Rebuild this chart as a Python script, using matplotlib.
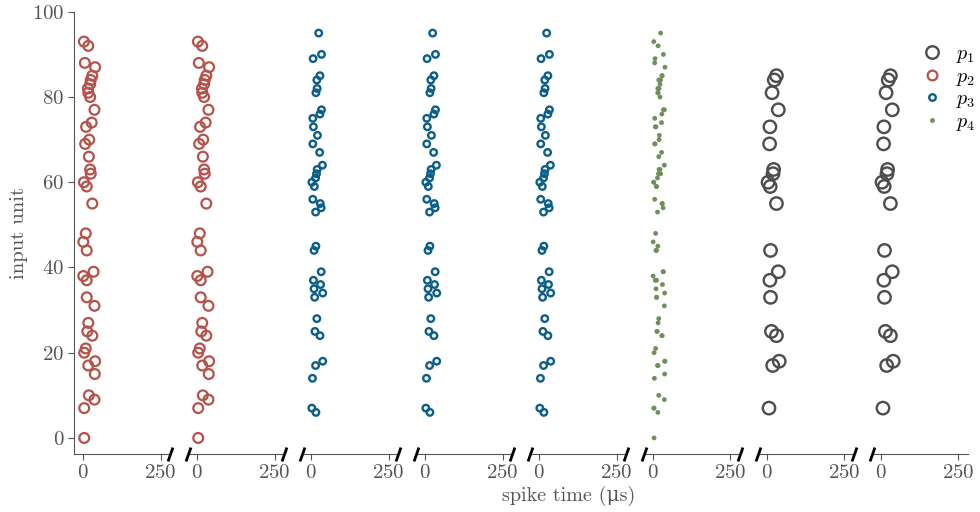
import numpy as np
import matplotlib
matplotlib.use("Agg")
import matplotlib.pyplot as plt
from matplotlib.lines import Line2D

plt.rcParams['font.family'] = ['cmr10', 'DejaVu Serif']
plt.rcParams['mathtext.fontset'] = 'cm'
plt.rcParams['axes.unicode_minus'] = False
plt.rcParams['axes.formatter.use_mathtext'] = True

# spike times (us) and input units for each pattern
p1_unit = [85, 84, 81, 77, 73, 69, 63, 62, 60, 59, 55, 44, 39, 37, 33, 25, 24, 18, 17, 7]
p1_time = [31, 24, 17, 37, 10, 9, 22, 20, 4, 11, 31, 12, 37, 10, 12, 15, 31, 40, 19, 7]

p2_unit = [93, 92, 88, 87, 85, 84, 83, 82, 81, 80, 77, 74, 73, 70, 69, 66, 63, 62, 60, 59,
           55, 48, 46, 44, 39, 38, 37, 33, 31, 27, 25, 24, 21, 20, 18, 17, 15, 10, 9, 7, 0]
p2_time = [3, 17, 6, 39, 30, 25, 23, 16, 17, 23, 37, 28, 10, 20, 7, 19, 23, 25, 3, 12,
           30, 9, 1, 12, 34, 1, 12, 12, 37, 17, 14, 30, 9, 4, 39, 17, 38, 19, 37, 4, 4]

p3_unit = [95, 90, 89, 85, 84, 82, 81, 77, 76, 75, 73, 71, 69, 67, 64, 63, 62, 61, 60, 59,
           56, 55, 54, 53, 45, 44, 39, 37, 36, 35, 34, 33, 28, 25, 24, 18, 17, 14, 7, 6]
p3_time = [25, 34, 7, 29, 19, 20, 16, 34, 29, 6, 8, 21, 6, 28, 37, 20, 18, 15, 3, 11,
           6, 30, 33, 15, 16, 10, 33, 8, 31, 10, 38, 12, 19, 13, 29, 38, 15, 5, 3, 16]

p4_unit = p2_unit + p3_unit
p4_time = p2_time + p3_time

# which pattern is shown in each of the 8 panels
panel_patterns = ['p2', 'p2', 'p3', 'p3', 'p3', 'p4', 'p1', 'p1']

styles = {
    'p1': dict(x=p1_time, y=p1_unit, s=80, facecolors='none', edgecolors='#4d4d4d', linewidths=1.7),
    'p2': dict(x=p2_time, y=p2_unit, s=50, facecolors='none', edgecolors='#b5524a', linewidths=1.6),
    'p3': dict(x=p3_time, y=p3_unit, s=22, facecolors='none', edgecolors='#0b5e8a', linewidths=1.7),
    'p4': dict(x=p4_time, y=p4_unit, s=12, facecolors='#6f8f5c', edgecolors='none'),
}

grey = '#555555'
fig, axes = plt.subplots(1, 8, figsize=(9.8, 5.12), dpi=100, sharey=True)
fig.subplots_adjust(left=0.0755, right=0.9875, top=0.977, bottom=0.113, wspace=0.1875)

for i, (ax, p) in enumerate(zip(axes, panel_patterns)):
    st = styles[p]
    ax.scatter(st['x'], st['y'], **{k: v for k, v in st.items() if k not in ('x', 'y')}, zorder=3)
    ax.set_xlim(-29, 280)
    ax.set_ylim(-3.8, 100)
    ax.set_xticks([0, 250])
    for side in ['top', 'right']:
        ax.spines[side].set_visible(False)
    ax.spines['bottom'].set_color(grey)
    ax.spines['left'].set_color(grey)
    ax.tick_params(colors=grey, labelsize=15, length=4, width=0.8, labelcolor=grey, pad=3)
    if i > 0:
        ax.spines['left'].set_visible(False)
        ax.tick_params(axis='y', left=False, labelleft=False)
    kw = dict(marker=[(-0.35, -1), (0.35, 1)], markersize=10, linestyle='none',
              color='k', mec='k', mew=2, clip_on=False, transform=ax.transAxes, zorder=5)
    if i > 0:
        ax.plot([0], [0], **kw)
    if i < 7:
        ax.plot([1], [0], **kw)

axes[0].set_yticks([0, 20, 40, 60, 80, 100])
axes[0].set_ylabel('input unit', color=grey, fontsize=15, labelpad=3)
fig.text(0.58, 0.012, 'spike time (μs)', ha='center', va='bottom', color=grey, fontsize=14.5)

handles = [
    Line2D([], [], marker='o', linestyle='none', markersize=9, mfc='none', mec='#4d4d4d', mew=1.7),
    Line2D([], [], marker='o', linestyle='none', markersize=7, mfc='none', mec='#b5524a', mew=1.6),
    Line2D([], [], marker='o', linestyle='none', markersize=4.7, mfc='none', mec='#0b5e8a', mew=1.7),
    Line2D([], [], marker='o', linestyle='none', markersize=3.5, mfc='#6f8f5c', mec='none'),
]
fig.legend(handles, ['$p_1$', '$p_2$', '$p_3$', '$p_4$'], loc='upper right',
           bbox_to_anchor=(1.008, 0.935), frameon=False, fontsize=14.5,
           handletextpad=0.2, labelspacing=0.12, borderaxespad=0.2)

fig.savefig('out.png', dpi=100)
